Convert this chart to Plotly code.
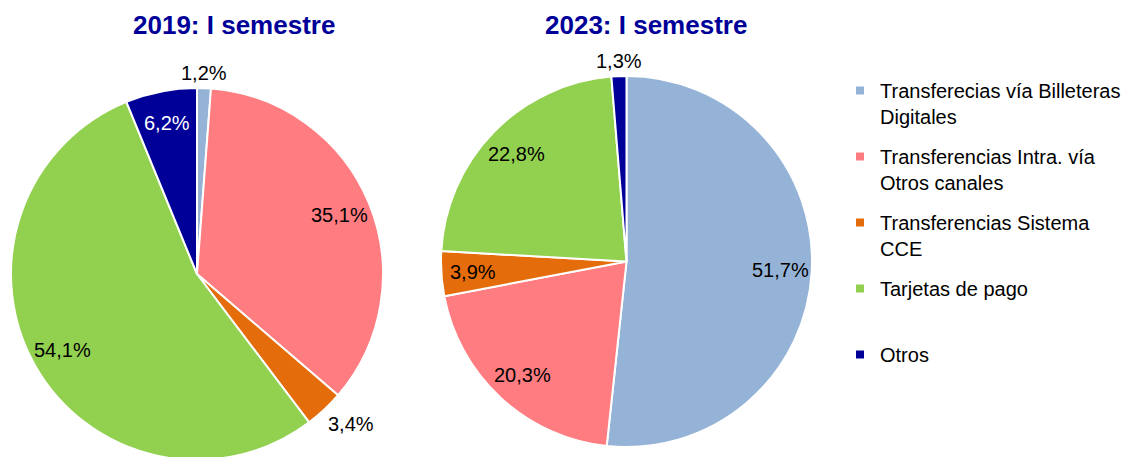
import math
import plotly.graph_objects as go

# ---------------- data ----------------
categories = [
    "Transferecias vía Billeteras Digitales",
    "Transferencias Intra. vía Otros canales",
    "Transferencias Sistema CCE",
    "Tarjetas de pago",
    "Otros",
]
legend_labels = [
    "Transferecias vía Billeteras<br>Digitales",
    "Transferencias Intra. vía<br>Otros canales",
    "Transferencias Sistema<br>CCE",
    "Tarjetas de pago<br>\u00a0",
    "Otros",
]
values_2019 = [1.2, 35.1, 3.4, 54.1, 6.2]
values_2023 = [51.7, 20.3, 3.9, 22.8, 1.3]
titles = ["2019: I semestre", "2023: I semestre"]
colors = ["#95B3D7", "#FF7C80", "#E46C0A", "#92D050", "#000099"]

# ---------------- layout constants ----------------
W, H = 1132, 457
FONT = "Liberation Sans, Arial, sans-serif"
domains = [
    dict(x=[3 / W, 375 / W], y=[5 / H, 377 / H]),
    dict(x=[433 / W, 804 / W], y=[18 / H, 389 / H]),
]
title_x = [226 / W, 638 / W]
series = [values_2019, values_2023]

fig = go.Figure()
annotations = []

for vals, dom, title, tx in zip(series, domains, titles, title_x):
    fig.add_trace(go.Pie(
        labels=categories,
        values=vals,
        sort=False,
        direction="clockwise",
        rotation=0,
        marker=dict(colors=colors, line=dict(color="white", width=2)),
        textinfo="none",
        hoverinfo="label+percent",
        showlegend=False,
        domain=dom,
    ))
    # geometry of the pie (pixels)
    wpx = (dom["x"][1] - dom["x"][0]) * W
    hpx = (dom["y"][1] - dom["y"][0]) * H
    R = min(wpx, hpx) / 2
    cx = (dom["x"][0] + dom["x"][1]) / 2 * W
    cy = (dom["y"][0] + dom["y"][1]) / 2 * H  # from bottom
    total = sum(vals)
    cum = 0.0
    for v, col in zip(vals, colors):
        mid = (cum + v / 2) / total
        cum += v
        th = 2 * math.pi * mid
        s, c = math.sin(th), math.cos(th)
        txt = f"{v:.1f}".replace(".", ",") + "%"
        if v >= 3.5:
            r = 0.83 * R
            xa, ya = "center", "middle"
            fcol = "white" if col == "#000099" else "black"
        else:
            r = 1.01 * R
            xa = "left" if s > 0.3 else ("right" if s < -0.3 else "center")
            ya = "bottom" if c > 0.3 else ("top" if c < -0.3 else "middle")
            fcol = "black"
        annotations.append(dict(
            x=(cx + r * s) / W, y=(cy + r * c) / H,
            xref="paper", yref="paper", text=txt, showarrow=False,
            xanchor=xa, yanchor=ya,
            font=dict(family=FONT, size=20, color=fcol),
        ))
    annotations.append(dict(
        x=tx, y=1 - 17 / H, xref="paper", yref="paper",
        text=f"<b>{title}</b>", showarrow=False,
        xanchor="center", yanchor="middle",
        font=dict(family=FONT, size=26, color="#000099"),
    ))

# legend entries (one per category)
for name, col in zip(legend_labels, colors):
    fig.add_trace(go.Scatter(
        x=[None], y=[None], mode="markers", name=name,
        legendgroup=name,
        marker=dict(symbol="square", size=8, color=col),
        hoverinfo="skip",
    ))

fig.update_layout(
    width=W, height=H,
    margin=dict(l=0, r=0, t=0, b=0, autoexpand=False),
    paper_bgcolor="white", plot_bgcolor="white",
    xaxis=dict(visible=False), yaxis=dict(visible=False),
    annotations=annotations,
    showlegend=True,
    legend=dict(
        x=832 / W, y=1 - 63 / H, xanchor="left", yanchor="top",
        font=dict(family=FONT, size=20, color="black"),
        valign="top", tracegroupgap=11, traceorder="grouped",
        bgcolor="rgba(0,0,0,0)",
    ),
    font=dict(family=FONT),
)

fig.write_html("out.html")
